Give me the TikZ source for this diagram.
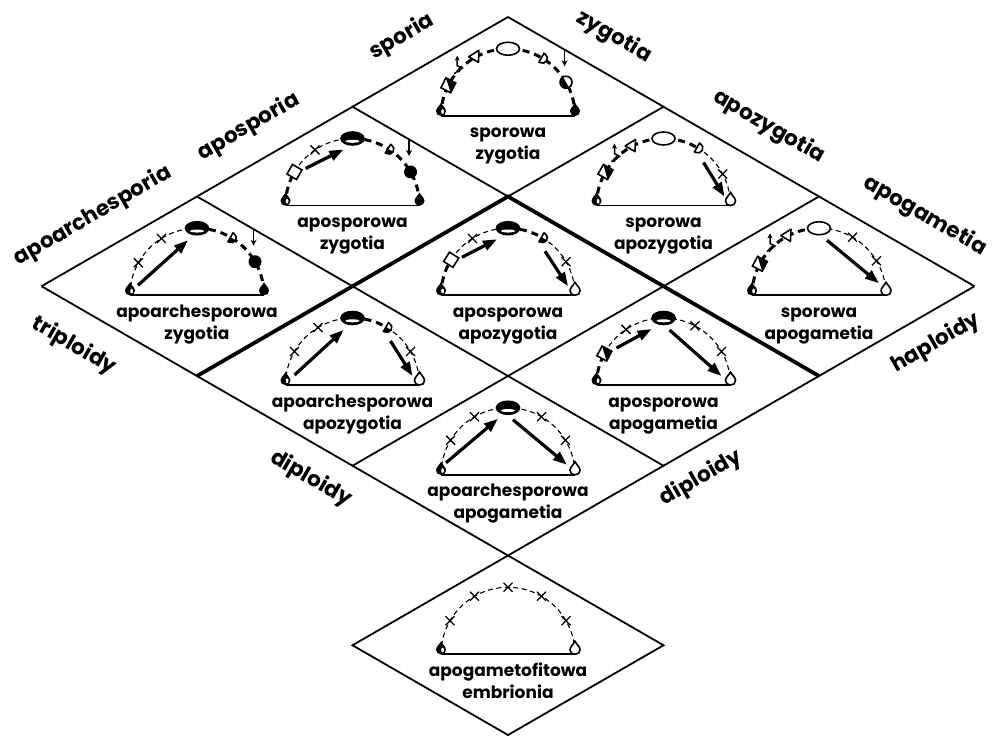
\documentclass[tikz,border=0pt]{standalone}
\usepackage{fontspec}
\setmainfont{Poppins}
\usetikzlibrary{arrows.meta,calc}

\tikzset{
  gridline/.style={line width=1.8pt},
  gridthick/.style={line width=3.8pt},
  edgelabel/.style={font=\fontsize{21.5}{21.5}\selectfont\bfseries, inner sep=0pt},
  celllabel/.style={font=\fontsize{17}{17}\selectfont\bfseries, inner sep=0pt, anchor=base},
  hapdash/.style={line width=3pt, dash pattern=on 7pt off 5pt},
  thindash/.style={line width=1.1pt, dash pattern=on 5pt off 3.5pt},
  bigarrow/.style={line width=3.2pt, -{Triangle[length=14pt,width=10pt]}},
  symline/.style={line width=1.6pt},
  crossline/.style={line width=1.3pt},
}

% --- life-cycle symbols, drawn about the origin ---
\newcommand\dropshape{(0,8) .. controls (-1.5,5) and (-5,2.5) .. (-5,-0.5) .. controls (-5,-3.5) and (-3,-5) .. (0,-5) .. controls (3,-5) and (5,-3.5) .. (5,-0.5) .. controls (5,2.5) and (1.5,5) .. (0,8) -- cycle}
\newcommand\dropL{\begin{scope}[shift={(-67,5)}]\fill[black] \dropshape; \fill[white] (1.6,-0.8) ellipse [x radius=1.4, y radius=2.4];\end{scope}}
\newcommand\dropRw{\begin{scope}[shift={(67,5)}]\draw[symline,fill=white] \dropshape;\end{scope}}
\newcommand\dropRb{\begin{scope}[shift={(67,5)}]\fill[black] \dropshape;\end{scope}}
% squares, white or half black, turned along the arc
\newcommand\sqw[1]{\begin{scope}[shift={(#1:67)}, rotate=#1-90]\draw[symline,fill=white] (-5.5,-5.5) rectangle (5.5,5.5);\end{scope}}
\newcommand\sqh[1]{\begin{scope}[shift={(#1:67)}, rotate=#1-90]\draw[symline,fill=white] (-5.5,-5.5) rectangle (5.5,5.5); \fill[black] (5.5,5.5) -- (5.5,-5.5) -- (-5.5,-5.5) -- cycle;\end{scope}}
% reduction sign: zigzag with an arrow pointing upward
\newcommand\zig[1]{\begin{scope}[shift={(#1:71)}]\draw[line width=1.5pt,-{Stealth[length=5pt,width=5pt]}] (-4.5,-9) -- (3.5,-3.5) -- (-1.5,-1) -- (-1.5,9);\end{scope}}
\newcommand\tri[1]{\begin{scope}[shift={(#1:67)}, rotate=#1-90]\draw[symline,fill=white,line join=round] (-7,3.5) -- (5,4.5) -- (-1,-6) -- cycle;\end{scope}}
\newcommand\ellw{\draw[symline,fill=white] (90:67) ellipse [x radius=11.5, y radius=6.5];}
\newcommand\ellb{\draw[symline,fill=black] (90:67) ellipse [x radius=11.5, y radius=6.5]; \fill[white] ($(90:67)+(0,-2.8)$) ellipse [x radius=7, y radius=1.5];}
\newcommand\Dw[1]{\begin{scope}[shift={(#1:67)}, rotate=#1-90]\draw[symline,fill=white] (0,-5) -- (0,5) -- (1,5) arc[start angle=90, end angle=-90, radius=5] -- cycle;\end{scope}}
\newcommand\Dh[1]{\begin{scope}[shift={(#1:67)}, rotate=#1-90]\draw[symline,fill=white] (0,-5) -- (0,5) -- (1,5) arc[start angle=90, end angle=-90, radius=5] -- cycle; \fill[black] (0,-5) -- (0,0) -- (6,0) arc[start angle=0, end angle=-90, radius=5] -- cycle;\end{scope}}
\newcommand\darr{\draw[line width=1.5pt,-{Stealth[length=6pt,width=6pt]}] ($(45:80)+(0,9)$) -- ($(45:80)+(0,-7)$);}
\newcommand\cirb{\fill[black] (30:67) circle[radius=6.5];}
\newcommand\cirh{\begin{scope}[shift={(30:67)}, rotate=-60]\draw[symline,fill=white] (0,0) circle[radius=6]; \fill[black] (-6,0) arc[start angle=180, end angle=360, radius=6] -- cycle;\end{scope}}
% arc segments and crosses
\newcommand\hap[2]{\draw[hapdash] plot[domain=#1:#2, samples=40] (\x:67);}
\newcommand\dip[2]{\draw[thindash] plot[domain=#1:#2, samples=40] (\x:67);}
\newcommand\crs[1]{\draw[crossline] ($(#1:67)+(-4.5,-4.5)$) -- ++(9,9) ($(#1:67)+(-4.5,4.5)$) -- ++(9,-9);}
\newcommand\base{\draw[symline] (-67,0) -- (67,0);}
\newcommand\names[3]{\node[celllabel] (#1a) at (0,-22) {#2}; \node[celllabel] (#1b) at (0,-44) {#3};}

\begin{document}
\begin{tikzpicture}[x=1pt,y=1pt]
\fill[white] (0,0) rectangle (1000,737);
\useasboundingbox (0,0) rectangle (1000,737);

% grid of the rhombus: u runs down-left, v runs down-right
\foreach \u in {0,...,4}{
  \foreach \v in {0,...,4}{
    \coordinate (g\u\v) at ({508-155.5*\u+155.5*\v},{720-89.75*\u-89.75*\v});
    \coordinate (c\u\v) at ({508-155.5*\u+155.5*\v},{720-89.75*(\u+\v+1)-9});
  }
}
\draw[gridline] (g00) -- (g30) (g00) -- (g03);
\draw[gridline] (g10) -- (g11) (g01) -- (g11);
\draw[gridthick] (g31) -- (g11) -- (g13);
\draw[gridline] (g20) -- (g23) (g02) -- (g32);
\draw[gridline] (g30) -- (g33) -- (g03);
\draw[gridline] (g33) -- (g43) -- (g44) -- (g34) -- cycle;

% edge labels
\node[edgelabel, rotate=30] (lsp) at (402,700) {sporia};
\node[edgelabel, rotate=30] (lap) at (249,610) {aposporia};
\node[edgelabel, rotate=30] (lar) at (93,521) {apoarchesporia};
\node[edgelabel, rotate=-30] (lzy) at (614,700) {zygotia};
\node[edgelabel, rotate=-30] (laz) at (769,610) {apozygotia};
\node[edgelabel, rotate=-30] (lag) at (925,521) {apogametia};
\node[edgelabel, rotate=-30] (ltr) at (74,391) {triploidy};
\node[edgelabel, rotate=-30] (ldl) at (311,258) {diploidy};
\node[edgelabel, rotate=30] (lha) at (936,394) {haploidy};
\node[edgelabel, rotate=30] (ldr) at (701,259) {diploidy};

% sporowa zygotia
\begin{scope}[shift={(c00)}]
\hap{180}{0} \base
\dropL \dropRb \sqh{153} \zig{134} \tri{118} \ellw \Dw{60} \darr \cirh
\names{n00}{sporowa}{zygotia}
\end{scope}

% aposporowa zygotia
\begin{scope}[shift={(c10)}]
\hap{180}{150} \dip{150}{90} \hap{90}{0} \base \crs{124}
\draw[bigarrow] (-47,37) -- (-9,56);
\dropL \dropRb \sqw{150} \ellb \Dh{58} \darr \cirb
\names{n10}{aposporowa}{zygotia}
\end{scope}

% apoarchesporowa zygotia
\begin{scope}[shift={(c20)}]
\dip{180}{90} \hap{90}{0} \base \crs{151} \crs{122}
\draw[bigarrow] (-59,10) -- (-9,55);
\dropL \dropRb \ellb \Dh{60} \darr \cirb
\names{n20}{apoarchesporowa}{zygotia}
\end{scope}

% sporowa apozygotia
\begin{scope}[shift={(c01)}]
\hap{180}{60} \dip{60}{0} \base \crs{28}
\draw[bigarrow] (40,43) -- (61,9);
\dropL \dropRw \sqh{150} \zig{132} \tri{117} \ellw \Dw{60}
\names{n01}{sporowa}{apozygotia}
\end{scope}

% sporowa apogametia
\begin{scope}[shift={(c02)}]
\hap{180}{90} \dip{90}{0} \base \crs{60} \crs{31}
\draw[bigarrow] (8,55) -- (60,12);
\dropL \dropRw \sqh{152} \zig{132} \tri{117} \ellw
\names{n02}{sporowa}{apogametia}
\end{scope}

% aposporowa apozygotia
\begin{scope}[shift={(c11)}]
\hap{180}{148} \dip{148}{90} \hap{90}{60} \dip{60}{0} \base \crs{122} \crs{30}
\draw[bigarrow] (-46,38) -- (-11,56);
\draw[bigarrow] (37,44) -- (60,9);
\dropL \dropRw \sqw{148} \ellb \Dh{60}
\names{n11}{aposporowa}{apozygotia}
\end{scope}

% apoarchesporowa apozygotia
\begin{scope}[shift={(c21)}]
\dip{180}{90} \hap{90}{60} \dip{60}{0} \base \crs{150} \crs{121} \crs{30}
\draw[bigarrow] (-58,10) -- (-9,55);
\draw[bigarrow] (38,44) -- (60,9);
\dropL \dropRw \ellb \Dh{60}
\names{n21}{apoarchesporowa}{apozygotia}
\end{scope}

% aposporowa apogametia
\begin{scope}[shift={(c12)}]
\hap{180}{152} \dip{152}{90} \dip{90}{0} \base \crs{124} \crs{62} \crs{30}
\draw[bigarrow] (-47,37) -- (-12,56);
\draw[bigarrow] (6,55) -- (58,9);
\dropL \dropRw \sqh{152} \ellb
\names{n12}{aposporowa}{apogametia}
\end{scope}

% apoarchesporowa apogametia
\begin{scope}[shift={(c22)}]
\dip{180}{0} \base \crs{149} \crs{120} \crs{60} \crs{31}
\draw[bigarrow] (-62,12) -- (-10,56);
\draw[bigarrow] (5,55) -- (59,10);
\dropL \dropRw \ellb
\names{n22}{apoarchesporowa}{apogametia}
\end{scope}

% apogametofitowa embrionia
\begin{scope}[shift={(c33)}]
\dip{180}{0} \base \crs{150} \crs{120} \crs{90} \crs{60} \crs{30}
\dropL \dropRw
\names{n33}{apogametofitowa}{embrionia}
\end{scope}
\end{tikzpicture}
\end{document}
